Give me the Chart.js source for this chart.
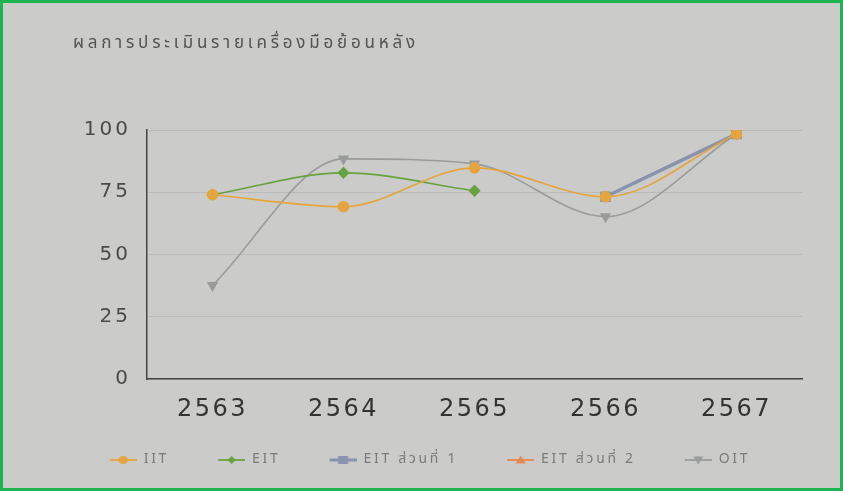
<!DOCTYPE html>
<html><head><meta charset="utf-8">
<script src="https://cdn.jsdelivr.net/npm/chart.js@4"></script>
<style>
html,body{margin:0;padding:0;background:#fff;}
#wrap{position:absolute;left:0;top:0;width:837px;height:485px;border:3px solid #1db34f;background:#cbccca;}
canvas{display:block;}
</style></head><body>
<div id="wrap"><canvas id="c" width="837" height="485"></canvas></div>
<script>
const categories = ['2563','2564','2565','2566','2567'];
const iit  = [74, 69.2, 84.8, 73.2, 98.4];
const eit  = [74, 82.8, 75.6, null, null];
const eit1 = [null, null, null, 73.2, 98.4];
const eit2 = [null, null, null, 73.2, 98.4];
const oit  = [37.6, 88.4, 86.4, 65.2, 98.4];
const yTicks = [0, 25, 50, 75, 100];
const titleText = 'ผลการประเมินรายเครื่องมือย้อนหลัง';

const thai = "'Noto Sans Thai','Noto Sans','DejaVu Sans',sans-serif";
const digitFont = "'DejaVu Sans',sans-serif";

function marker(color, style, lw){
  const c = document.createElement('canvas');
  c.width = 62; c.height = 14;
  const g = c.getContext('2d');
  const cx = 48.5, cy = 7;
  g.strokeStyle = color; g.fillStyle = color; g.lineWidth = lw;
  g.beginPath(); g.moveTo(35, cy); g.lineTo(62, cy); g.stroke();
  g.beginPath();
  if (style === 'circle') { g.ellipse(cx, cy, 5, 4, 0, 0, Math.PI*2); }
  else if (style === 'rectRot') { g.moveTo(cx, cy-4); g.lineTo(cx+4, cy); g.lineTo(cx, cy+4); g.lineTo(cx-4, cy); g.closePath(); }
  else if (style === 'rect') { g.rect(cx-5, cy-4, 10, 8); }
  else if (style === 'triUp') { g.moveTo(cx, cy-4.5); g.lineTo(cx+5, cy+3.5); g.lineTo(cx-5, cy+3.5); g.closePath(); }
  else if (style === 'triDown') { g.moveTo(cx, cy+4.5); g.lineTo(cx+5, cy-3.5); g.lineTo(cx-5, cy-3.5); g.closePath(); }
  g.fill();
  return c;
}

function ds(label, data, color, style, rot, width, legendStyle){
  return {label, data, borderColor: color, backgroundColor: color, pointStyle: style, rotation: rot||0,
    pointRadius: 5, pointHoverRadius: 5, borderWidth: width, spanGaps: false,
    cubicInterpolationMode: 'monotone', _legendImg: marker(color, legendStyle, width > 2 ? 3 : 1.8)};
}

const spacing = {x: '2.5px', y: '3px'};
const textPlugin = {
  id: 'textPlugin',
  beforeLayout(chart){ chart.ctx.letterSpacing = '2.7px'; },
  afterLayout(chart){
    Object.keys(chart.scales).forEach(id => {
      const s = chart.scales[id];
      if (s._wrappedLabels) return;
      const orig = s.drawLabels;
      s.drawLabels = function(area){
        const c = this.ctx; const prev = c.letterSpacing;
        c.letterSpacing = spacing[id] || '0px';
        orig.call(this, area);
        c.letterSpacing = prev;
      };
      s._wrappedLabels = true;
    });
  },
  beforeDraw(chart){ chart.ctx.letterSpacing = '2.7px'; },
  afterDraw(chart){
    const c = chart.ctx;
    c.save();
    c.letterSpacing = '3.8px';
    c.fillStyle = '#525252';
    c.font = "17px " + thai;
    c.textBaseline = 'middle';
    c.textAlign = 'left';
    c.fillText(titleText, 70, 42);
    c.restore();
  }
};

new Chart(document.getElementById('c'), {
  type: 'line',
  data: {
    labels: categories,
    datasets: [
      ds('IIT', iit, '#e5a53c', 'circle', 0, 1.6, 'circle'),
      ds('EIT', eit, '#66a33f', 'rectRot', 0, 1.6, 'rectRot'),
      ds('EIT ส่วนที่ 1', eit1, '#8a93ad', 'rect', 0, 3.5, 'rect'),
      ds('EIT ส่วนที่ 2', eit2, '#e8874f', 'triangle', 0, 1.6, 'triUp'),
      ds('OIT', oit, '#9a9c9c', 'triangle', 180, 1.6, 'triDown')
    ]
  },
  plugins: [textPlugin],
  options: {
    responsive: false,
    animation: false,
    layout: {padding: {left: 20, right: 38, top: 127, bottom: 11}},
    plugins: {
      title: {display: false},
      legend: {position: 'bottom', align: 'center',
        labels: {usePointStyle: true, pointStyleWidth: 62, boxHeight: 14, color: '#7a7a7a', padding: 14,
          font: {family: thai, size: 14},
          generateLabels(chart){
            const items = Chart.defaults.plugins.legend.labels.generateLabels(chart);
            items.forEach(it => { it.pointStyle = chart.data.datasets[it.datasetIndex]._legendImg; it.rotation = 0; });
            return items;
          }}},
      tooltip: {enabled: false}
    },
    scales: {
      x: {offset: true,
        afterFit(s){ s.height = 60; },
        grid: {display: false, drawTicks: false},
        border: {display: true, color: '#454545', width: 1.5},
        ticks: {color: '#333', font: {family: digitFont, size: 24}, padding: 16}},
      y: {min: 0, max: 100,
        afterFit(s){ s.width = 124; },
        afterBuildTicks: (ax) => { ax.ticks = yTicks.map(v => ({value: v})); },
        grid: {color: 'rgba(150,150,150,0.3)', drawTicks: false},
        border: {display: true, color: '#454545', width: 1.5},
        ticks: {color: '#4a4a4a', font: {family: digitFont, size: 20}, padding: 16}}
    }
  }
});
</script></body></html>
